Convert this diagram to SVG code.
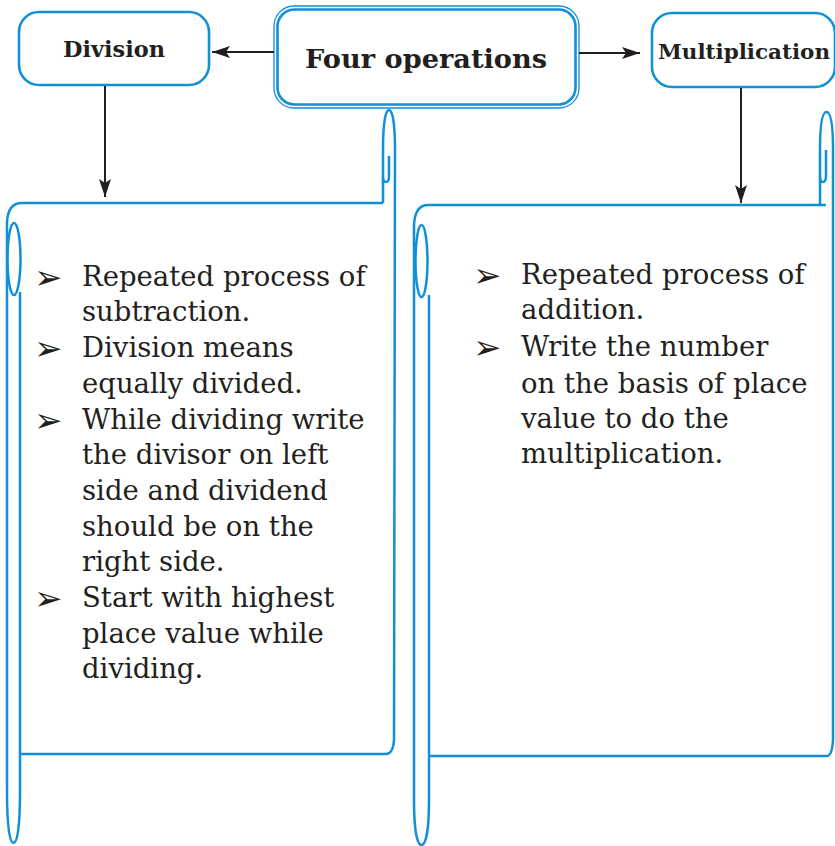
<svg xmlns="http://www.w3.org/2000/svg" width="835" height="846" viewBox="0 0 835 846">
  <defs>
    <marker id="arr" markerUnits="userSpaceOnUse" markerWidth="20" markerHeight="14" refX="18" refY="6" orient="auto">
      <path d="M0,0 L18,6 L0,12 L4,6 Z" fill="#231f20"/>
    </marker>
    <style>
      .box { fill: #ffffff; stroke: #1190d8; stroke-width: 2.6; }
      .thin { fill: none; stroke: #1190d8; stroke-width: 1.3; }
      .scroll { fill: none; stroke: #1190d8; stroke-width: 2.5; stroke-linejoin: round; }
      .head { font-family: "DejaVu Serif", "Liberation Serif", serif; font-weight: bold; fill: #231f20; text-anchor: start; }
      .body { font-family: "DejaVu Serif", "Liberation Serif", serif; font-size: 27.5px; fill: #231f20; }
      .bul { font-family: "DejaVu Sans", sans-serif; font-size: 34px; fill: #231f20; }
      .conn { stroke: #231f20; stroke-width: 2; fill: none; marker-end: url(#arr); }
    </style>
  </defs>
  <rect width="835" height="846" fill="#ffffff"/>

  <g id="four-operations">
    <rect class="thin" x="274" y="6" width="305" height="102" rx="20"/>
    <rect class="box" x="277.5" y="9.5" width="298" height="95" rx="17"/>
    <text class="head" x="305" y="68" font-size="26" textLength="242" lengthAdjust="spacingAndGlyphs">Four operations</text>
  </g>

  <g id="division">
    <rect class="box" x="19" y="12" width="190" height="73" rx="20"/>
    <text class="head" x="63" y="57" font-size="22" textLength="102" lengthAdjust="spacingAndGlyphs">Division</text>
  </g>

  <g id="multiplication">
    <rect class="box" x="652" y="13" width="183" height="74" rx="20"/>
    <text class="head" x="658" y="59" font-size="21" textLength="172" lengthAdjust="spacingAndGlyphs">Multiplication</text>
  </g>

  <g id="division-notes">
    <path class="scroll" d="M22,203 L383,203"/>
    <path class="scroll" d="M22,203 Q8,203 7,222 L7,790 C7,830 10,843 13.5,843 C17,843 20,830 20,790 L20,292"/>
    <ellipse class="scroll" cx="14" cy="259" rx="6.5" ry="36"/>
    <path class="scroll" d="M20,754 L386,754 Q393,754 394,740"/>
    <path class="scroll" d="M383,203 L383,150 C383,120 386,110 389,110 C392,110 395,120 395,150 L394,740"/>
    <path class="scroll" d="M389,156 L389,176 Q389,182 386,182 Q383,182 383,177"/>
    <text class="bul" x="34" y="289">➢</text>
    <text class="bul" x="34" y="360">➢</text>
    <text class="bul" x="34" y="432">➢</text>
    <text class="bul" x="34" y="610">➢</text>
    <text class="body" x="82" y="286">Repeated process of</text>
    <text class="body" x="82" y="321">subtraction.</text>
    <text class="body" x="82" y="357">Division means</text>
    <text class="body" x="82" y="393">equally divided.</text>
    <text class="body" x="82" y="429">While dividing write</text>
    <text class="body" x="82" y="464">the divisor on left</text>
    <text class="body" x="82" y="500">side and dividend</text>
    <text class="body" x="82" y="536">should be on the</text>
    <text class="body" x="82" y="571">right side.</text>
    <text class="body" x="82" y="607">Start with highest</text>
    <text class="body" x="82" y="643">place value while</text>
    <text class="body" x="82" y="678">dividing.</text>
  </g>

  <g id="multiplication-notes">
    <path class="scroll" d="M428,205 L826,205"/>
    <path class="scroll" d="M428,205 Q415,205 414,225 L414,800 C414,835 418,845 421.5,845 C425,845 429,835 429,800 L429,295"/>
    <ellipse class="scroll" cx="421.5" cy="261" rx="6" ry="36"/>
    <path class="scroll" d="M429,756 L827,756 Q832,756 833,740"/>
    <path class="scroll" d="M820,205 L820,150 C820,120 823,112 826.5,112 C830,112 833,120 833,150 L833,740"/>
    <path class="scroll" d="M826,150 L826,176 Q826,182 823,182 Q820,182 820,177"/>
    <text class="bul" x="473" y="287">➢</text>
    <text class="bul" x="473" y="359">➢</text>
    <text class="body" x="521" y="284">Repeated process of</text>
    <text class="body" x="521" y="319">addition.</text>
    <text class="body" x="521" y="356">Write the number</text>
    <text class="body" x="521" y="393">on the basis of place</text>
    <text class="body" x="521" y="428">value to do the</text>
    <text class="body" x="521" y="463">multiplication.</text>
  </g>

  <g id="connectors">
    <line class="conn" x1="274" y1="52" x2="212" y2="52"/>
    <line class="conn" x1="579" y1="53" x2="640" y2="53"/>
    <line class="conn" x1="105" y1="86" x2="105" y2="197"/>
    <line class="conn" x1="741" y1="88" x2="741" y2="203"/>
  </g>
</svg>
